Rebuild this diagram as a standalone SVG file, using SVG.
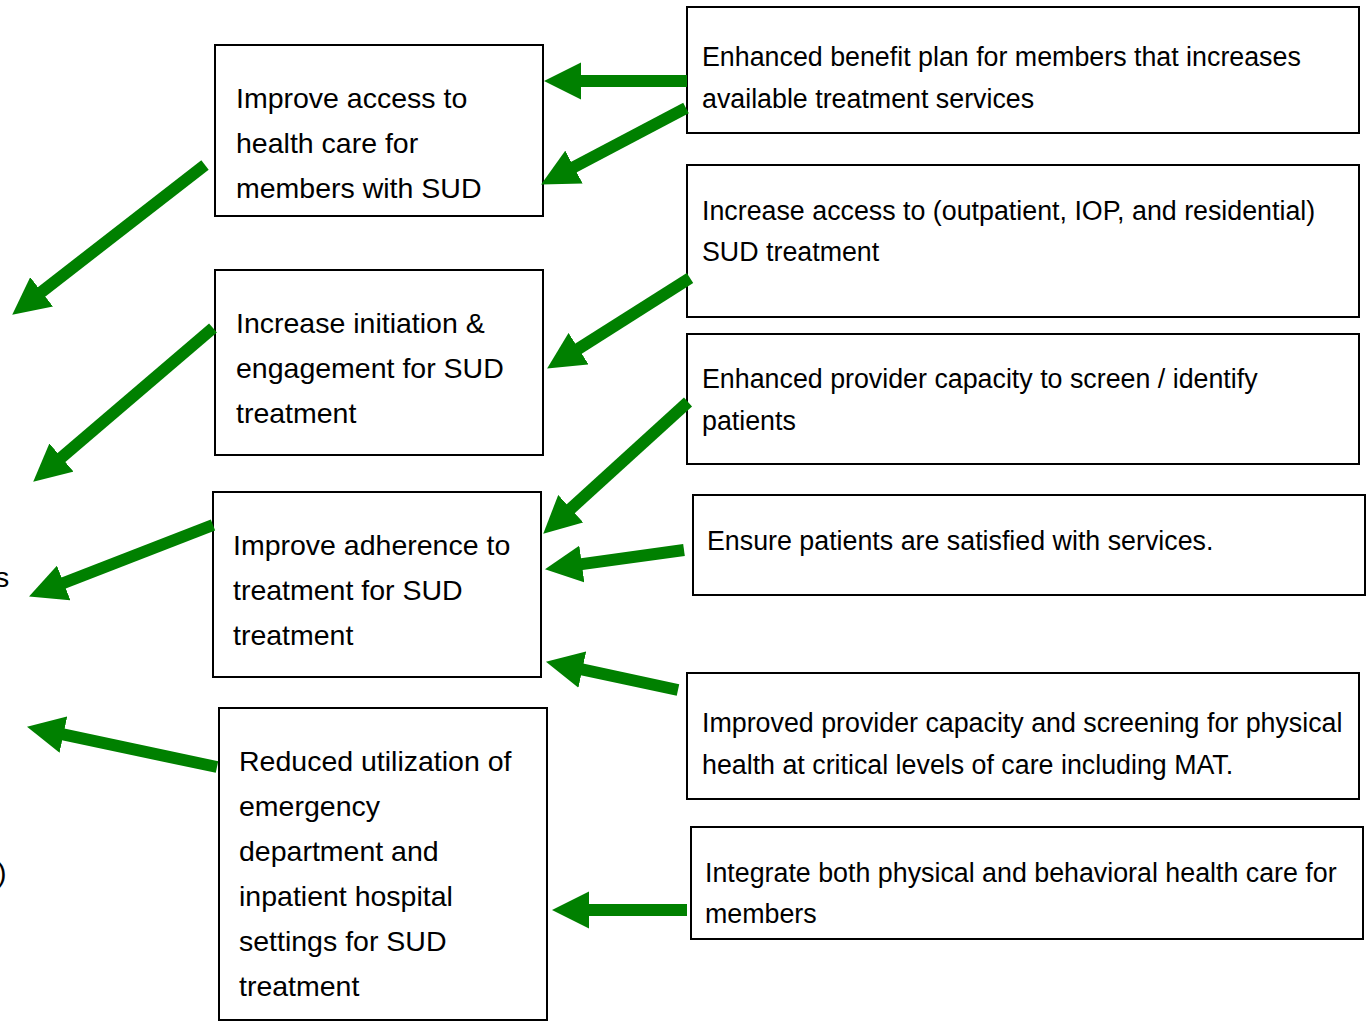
<svg xmlns="http://www.w3.org/2000/svg" width="1370" height="1021" viewBox="0 0 1370 1021">
<style>
  .box { fill: #ffffff; stroke: #000000; stroke-width: 2; }
  .tl { font-family: "Liberation Sans", Arial, sans-serif; font-size: 28.5px; fill: #000000; }
  .tr { font-family: "Liberation Sans", Arial, sans-serif; font-size: 26.8px; fill: #000000; }
  .arr { stroke: #008000; stroke-width: 12; fill: none; marker-end: url(#head); }
</style>
<defs>
  <marker id="head" viewBox="0 0 10 10" refX="3" refY="5" markerWidth="3.1" markerHeight="3.1" markerUnits="strokeWidth" orient="auto">
    <path d="M0,0 L10,5 L0,10 z" fill="#008000"/>
  </marker>
</defs>
<rect width="1370" height="1021" fill="#ffffff"/>

<g id="edge-fragments">
  <text class="tl" x="-5" y="587">s</text>
  <text class="tl" x="-3" y="882">)</text>
</g>

<g id="node-improve-access">
  <rect class="box" x="215" y="45" width="328" height="171"/>
  <text class="tl" x="236" y="108">Improve access to</text>
  <text class="tl" x="236" y="153">health care for</text>
  <text class="tl" x="236" y="198">members with SUD</text>
</g>
<g id="node-increase-initiation">
  <rect class="box" x="215" y="270" width="328" height="185"/>
  <text class="tl" x="236" y="333">Increase initiation &amp;</text>
  <text class="tl" x="236" y="378">engagement for SUD</text>
  <text class="tl" x="236" y="423">treatment</text>
</g>
<g id="node-improve-adherence">
  <rect class="box" x="213" y="492" width="328" height="185"/>
  <text class="tl" x="233" y="555">Improve adherence to</text>
  <text class="tl" x="233" y="600">treatment for SUD</text>
  <text class="tl" x="233" y="645">treatment</text>
</g>
<g id="node-reduced-utilization">
  <rect class="box" x="219" y="708" width="328" height="312"/>
  <text class="tl" x="239" y="771">Reduced utilization of</text>
  <text class="tl" x="239" y="816">emergency</text>
  <text class="tl" x="239" y="861">department and</text>
  <text class="tl" x="239" y="906">inpatient hospital</text>
  <text class="tl" x="239" y="951">settings for SUD</text>
  <text class="tl" x="239" y="996">treatment</text>
</g>

<g id="node-enhanced-benefit">
  <rect class="box" x="687" y="7" width="672" height="126"/>
  <text class="tr" x="702" y="66">Enhanced benefit plan for members that increases</text>
  <text class="tr" x="702" y="108">available treatment services</text>
</g>
<g id="node-increase-access">
  <rect class="box" x="687" y="165" width="672" height="152"/>
  <text class="tr" x="702" y="220">Increase access to (outpatient, IOP, and residential)</text>
  <text class="tr" x="702" y="261">SUD treatment</text>
</g>
<g id="node-provider-capacity">
  <rect class="box" x="687" y="334" width="672" height="130"/>
  <text class="tr" x="702" y="388">Enhanced provider capacity to screen / identify</text>
  <text class="tr" x="702" y="430">patients</text>
</g>
<g id="node-satisfied">
  <rect class="box" x="693" y="495" width="672" height="100"/>
  <text class="tr" x="707" y="550">Ensure patients are satisfied with services.</text>
</g>
<g id="node-physical-screening">
  <rect class="box" x="687" y="673" width="672" height="126"/>
  <text class="tr" x="702" y="732">Improved provider capacity and screening for physical</text>
  <text class="tr" x="702" y="774">health at critical levels of care including MAT.</text>
</g>
<g id="node-integrate">
  <rect class="box" x="691" y="827" width="672" height="112"/>
  <text class="tr" x="705" y="882">Integrate both physical and behavioral health care for</text>
  <text class="tr" x="705" y="923">members</text>
</g>

<g id="connectors">
  <line class="arr" x1="687" y1="81" x2="570" y2="81"/>
  <line class="arr" x1="686" y1="108" x2="564.1" y2="172.3"/>
  <line class="arr" x1="205" y1="165" x2="32.8" y2="298.7"/>
  <line class="arr" x1="213" y1="328" x2="53" y2="464.8"/>
  <line class="arr" x1="690" y1="278" x2="569.1" y2="354.6"/>
  <line class="arr" x1="688" y1="402" x2="562.5" y2="516.2"/>
  <line class="arr" x1="684" y1="550" x2="570.8" y2="565.6"/>
  <line class="arr" x1="678" y1="690" x2="571.4" y2="667.2"/>
  <line class="arr" x1="213" y1="525" x2="53.3" y2="587"/>
  <line class="arr" x1="217" y1="767" x2="52.5" y2="732.2"/>
  <line class="arr" x1="687" y1="910" x2="578" y2="910"/>
</g>
</svg>
